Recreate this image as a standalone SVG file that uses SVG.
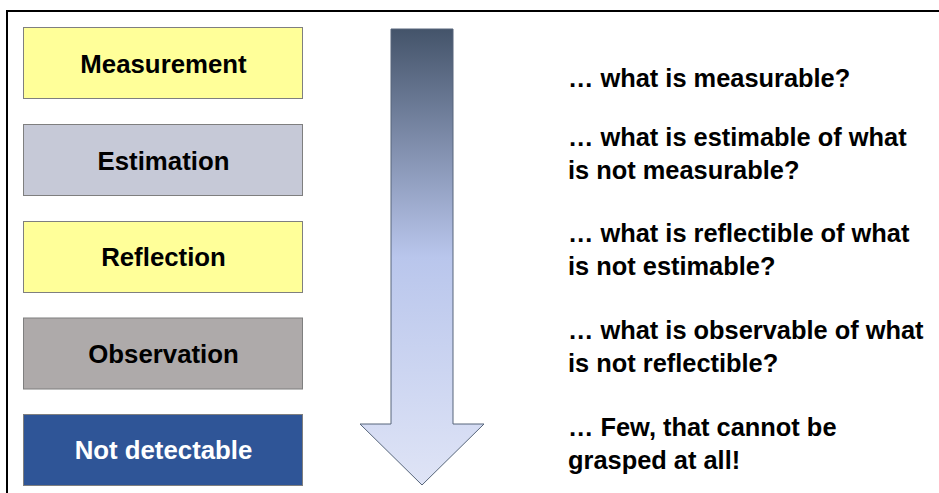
<svg xmlns="http://www.w3.org/2000/svg" width="939" height="493" viewBox="0 0 939 493">
<defs>
<linearGradient id="g" x1="0" y1="0" x2="0" y2="1">
<stop offset="0" stop-color="#44546a"/>
<stop offset="0.5" stop-color="#b9c6ec"/>
<stop offset="1" stop-color="#dfe4f6"/>
</linearGradient>
<style>
.box{stroke:#7f7f7f;stroke-width:1}
.lbl{font-family:"Liberation Sans",Arial,sans-serif;font-weight:bold;font-size:25.8px;text-anchor:middle}
.q{font-family:"Liberation Sans",Arial,sans-serif;font-weight:bold;font-size:25.4px;fill:#000}
</style>
</defs>
<rect width="939" height="493" fill="#fff"/>
<path d="M7,493 V11 H939" fill="none" stroke="#000" stroke-width="2"/>
<g id="measurement"><rect class="box" x="23.5" y="27.5" width="279" height="71" fill="#ffff99"/><text class="lbl" x="163.5" y="72.7">Measurement</text></g>
<g id="estimation"><rect class="box" x="23.5" y="124.5" width="279" height="71" fill="#c6c9d7"/><text class="lbl" x="163.5" y="169.5">Estimation</text></g>
<g id="reflection"><rect class="box" x="23.5" y="221.5" width="279" height="71" fill="#ffff99"/><text class="lbl" x="163.5" y="265.7">Reflection</text></g>
<g id="observation"><rect class="box" x="23.5" y="318" width="279" height="71" fill="#aeaaaa"/><text class="lbl" x="163.5" y="362.5">Observation</text></g>
<g id="notdetectable"><rect class="box" x="23.5" y="414.5" width="279" height="71" fill="#2f5597"/><text class="lbl" x="163.5" y="459.2" fill="#fff">Not detectable</text></g>
<g id="connectors">
<path d="M391,29 H453 V424 H484 L422,485 L360,424 H391 Z" fill="url(#g)" stroke="#56657a" stroke-width="1"/>
</g>
<g id="questions">
<text class="q" x="568" y="86.7">… what is measurable?</text>
<text class="q" x="568" y="146.2">… what is estimable of what</text>
<text class="q" x="568" y="178.7">is not measurable?</text>
<text class="q" x="568" y="242.2">… what is reflectible of what</text>
<text class="q" x="568" y="275.2">is not estimable?</text>
<text class="q" x="568" y="339">… what is observable of what</text>
<text class="q" x="568" y="372">is not reflectible?</text>
<text class="q" x="568" y="436.2">… Few, that cannot be</text>
<text class="q" x="568" y="468.7">grasped at all!</text>
</g>
</svg>
